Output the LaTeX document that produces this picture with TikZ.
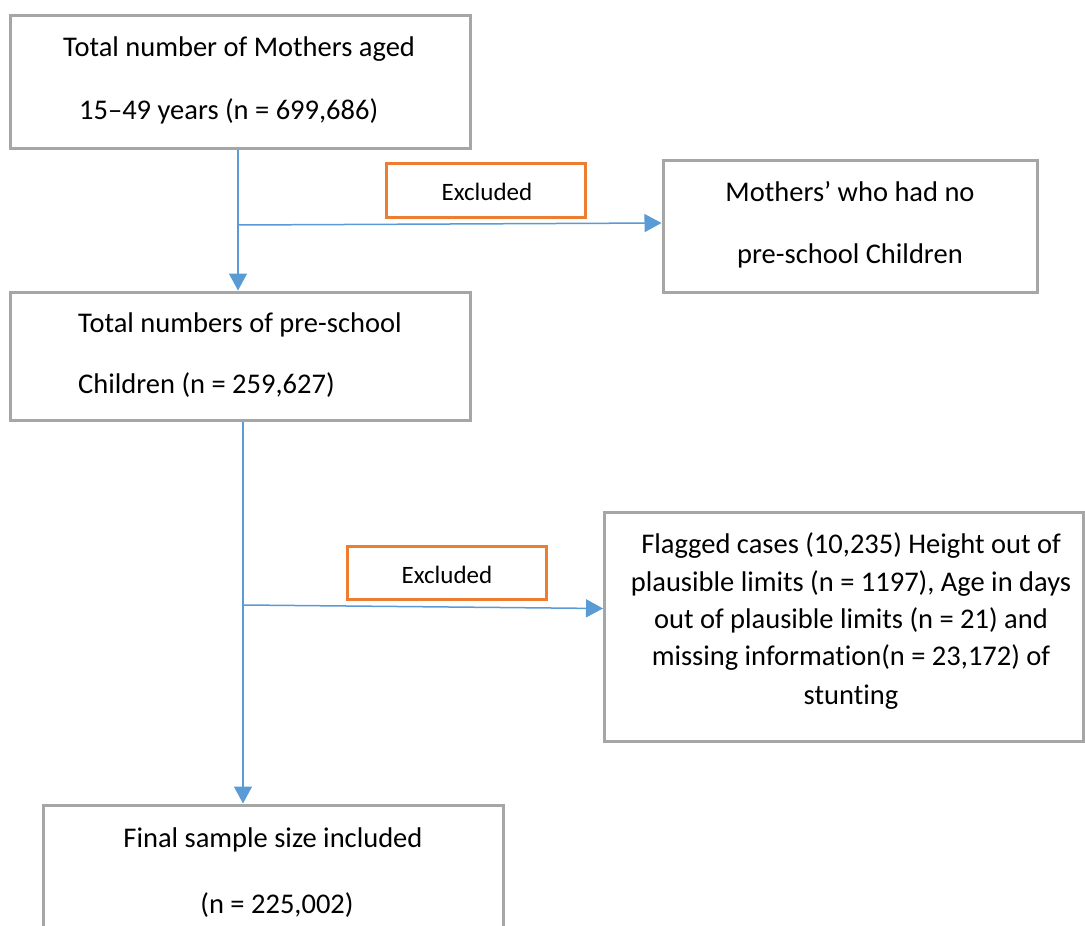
\documentclass[tikz,border=0pt]{standalone}
\usepackage{fontspec}
\setmainfont{Carlito}[Ligatures=NoCommon,Contextuals=NoAlternate]
\usetikzlibrary{arrows.meta}
\definecolor{boxgray}{HTML}{A6A6A6}
\definecolor{exorange}{HTML}{ED7D31}
\definecolor{flowblue}{HTML}{5B9BD5}
\tikzset{
  box/.style={draw=boxgray, line width=3pt, fill=none, inner sep=0pt},
  exbox/.style={draw=exorange, line width=3pt, inner sep=0pt},
  txt/.style={font=\fontsize{28.5}{34}\selectfont, inner sep=0pt},
  extxt/.style={font=\fontsize{25}{30}\selectfont, inner sep=0pt},
  flow/.style={draw=flowblue, line width=1.5pt},
  arr/.style={flow, -{Triangle[length=17pt,width=18pt]}}
}
\begin{document}
\begin{tikzpicture}[x=1pt,y=-1pt]
\clip (0,0) rectangle (1085,926);
\fill[white] (0,0) rectangle (1085,926);
% boxes
\node[box, minimum width=460pt, minimum height=133pt] (b1) at (240,82) {};
\node[box, minimum width=460pt, minimum height=128pt] (b2) at (240,356) {};
\node[box, minimum width=374pt, minimum height=132pt] (b3) at (850,226) {};
\node[box, minimum width=479pt, minimum height=229pt] (b4) at (844,626.5) {};
\node[box, minimum width=460pt, minimum height=160pt] (b5) at (273,885) {};
\node[exbox, minimum width=199pt, minimum height=54pt] (e1) at (485.5,190) {};
\node[exbox, minimum width=199pt, minimum height=53pt] (e2) at (446.5,572.5) {};
% texts
\node[txt, anchor=base west] (t1a) at (63,56) {Total number of Mothers aged};
\node[txt, anchor=base west] (t1b) at (79,119) {15–49 years (n = 699,686)};
\node[txt, anchor=base west] (t2a) at (78,332) {Total numbers of pre-school};
\node[txt, anchor=base west] (t2b) at (78,393) {Children (n = 259,627)};
\node[txt, anchor=base] (t3a) at (850,201) {Mothers’ who had no};
\node[txt, anchor=base] (t3b) at (850,263) {pre-school Children};
\node[txt, anchor=base] (t4a) at (851,553) {Flagged cases (10,235) Height out of};
\node[txt, anchor=base] (t4b) at (851,591) {plausible limits (n = 1197), Age in days};
\node[txt, anchor=base] (t4c) at (851,628) {out of plausible limits (n = 21) and};
\node[txt, anchor=base] (t4d) at (851,665) {missing informat\kern0pt ion(n = 23,172) of};
\node[txt, anchor=base] (t4e) at (851,704) {stunt\kern0pt ing};
\node[txt, anchor=base] (t5a) at (273,847) {Final sample size included};
\node[txt, anchor=base] (t5b) at (277,913) {(n = 225,002)};
\node[extxt, anchor=base] (x1) at (487,200) {Excluded};
\node[extxt, anchor=base] (x2) at (447,583) {Excluded};
% connectors
\coordinate (j1) at (238,225);
\coordinate (j2) at (243,605);
\draw[arr] (b1.south -| j1) -- (b2.north -| j1);
\draw[arr] (j1) -- ([yshift=3pt]b3.west);
\draw[arr] (b2.south -| j2) -- (b5.north -| j2);
\draw[arr] ([xshift=1pt]j2) -- ([yshift=18pt]b4.west);
\end{tikzpicture}
\end{document}
